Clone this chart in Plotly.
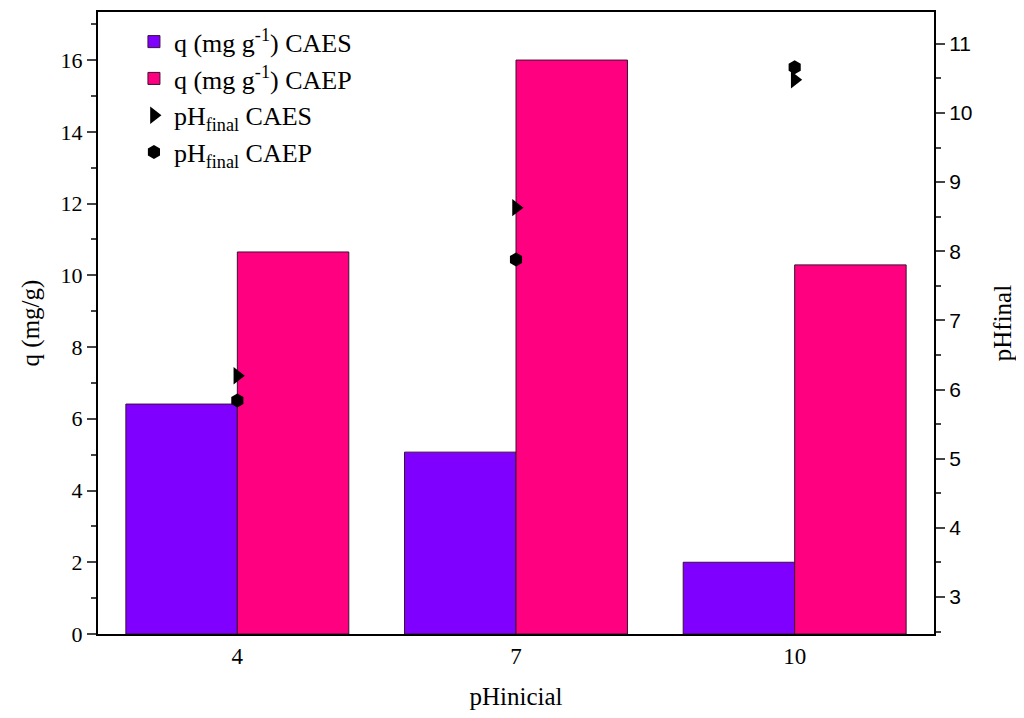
import plotly.graph_objects as go

categories = ["4", "7", "10"]
q_caes = [6.41, 5.07, 2.0]
q_caep = [10.65, 16.0, 10.29]
ph_caes = [6.20, 8.63, 10.48]
ph_caep = [5.84, 7.88, 10.66]

serif = "Liberation Serif, Times New Roman, serif"
sans = "Liberation Sans, Arial, sans-serif"

fig = go.Figure()
fig.add_trace(go.Bar(x=categories, y=q_caes, name="q (mg g<sup>-1</sup>) CAES",
                     marker=dict(color="#8000FF", line=dict(color="#3a1030", width=1))))
fig.add_trace(go.Bar(x=categories, y=q_caep, name="q (mg g<sup>-1</sup>) CAEP",
                     marker=dict(color="#FF0080", line=dict(color="#3a1030", width=1))))
fig.add_trace(go.Scatter(x=categories, y=ph_caes, name="pH<sub>final</sub> CAES", mode="markers",
                         yaxis="y2", marker=dict(symbol="triangle-right", size=15, color="black")))
fig.add_trace(go.Scatter(x=categories, y=ph_caep, name="pH<sub>final</sub> CAEP", mode="markers",
                         yaxis="y2", marker=dict(symbol="hexagon", size=14, color="black")))

fig.update_layout(
    width=1008, height=702,
    margin=dict(l=90, r=82, t=4, b=76, autoexpand=False),
    paper_bgcolor="white", plot_bgcolor="white",
    barmode="group", bargap=0.2, bargroupgap=0,
    font=dict(family=serif, color="black"),
    showlegend=True,
    legend=dict(x=0.043, y=0.99, xanchor="left", yanchor="top",
                bgcolor="rgba(0,0,0,0)", font=dict(family=serif, size=26), tracegroupgap=2),
    xaxis=dict(type="category", range=[-0.5, 2.5], showline=True, linecolor="black", linewidth=2,
               mirror=True, ticks="", showgrid=False, tickfont=dict(family=serif, size=23),
               automargin=False,
               title=dict(text="pHinicial", font=dict(family=serif, size=25), standoff=30)),
    yaxis=dict(range=[0, 17.34], dtick=2, tick0=0, showline=True, linecolor="black", linewidth=2,
               ticks="outside", ticklen=9, tickwidth=2, showgrid=False, zeroline=False,
               minor=dict(dtick=1, ticks="outside", ticklen=5, tickwidth=2, showgrid=False),
               tickfont=dict(family=serif, size=22), automargin=False,
               title=dict(text="q (mg/g)", font=dict(family=serif, size=25), standoff=14)),
    yaxis2=dict(overlaying="y", side="right", range=[2.465, 11.46], dtick=1, tick0=0,
                showline=True, linecolor="black", linewidth=2, ticks="outside", ticklen=9,
                tickwidth=2, showgrid=False, zeroline=False, automargin=False,
                minor=dict(dtick=0.5, ticks="outside", ticklen=5, tickwidth=2, showgrid=False),
                tickfont=dict(family=sans, size=21),
                title=dict(text="pHfinal", font=dict(family=serif, size=25), standoff=27)),
)

fig.write_html("out.html")
